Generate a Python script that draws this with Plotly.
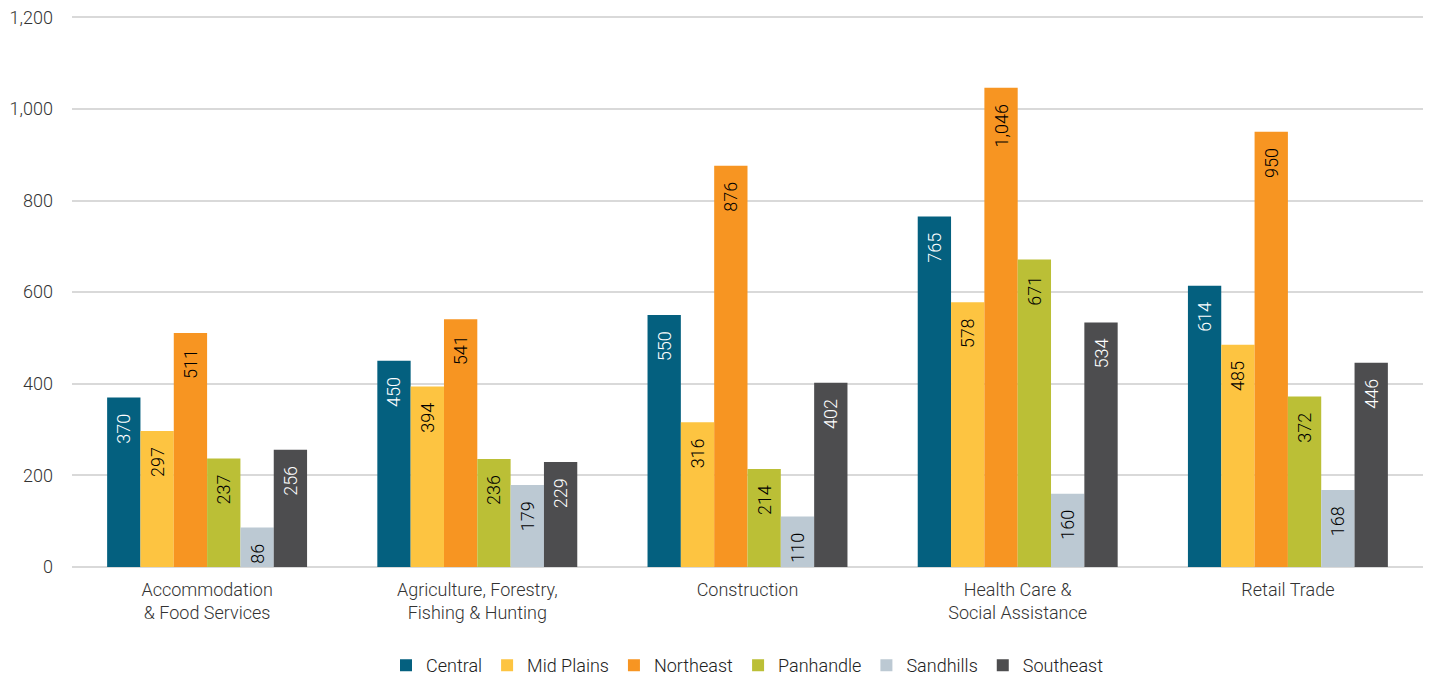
import plotly.graph_objects as go

categories = ["Accommodation<br>& Food Services", "Agriculture, Forestry,<br>Fishing & Hunting",
              "Construction", "Health Care &<br>Social Assistance", "Retail Trade"]
central = [370, 450, 550, 765, 614]
mid_plains = [297, 394, 316, 578, 485]
northeast = [511, 541, 876, 1046, 950]
panhandle = [237, 236, 214, 671, 372]
sandhills = [86, 179, 110, 160, 168]
southeast = [256, 229, 402, 534, 446]

series = [
    ("Central", central, "#04607F", "white"),
    ("Mid Plains", mid_plains, "#FDC441", "black"),
    ("Northeast", northeast, "#F79522", "black"),
    ("Panhandle", panhandle, "#BBBF36", "black"),
    ("Sandhills", sandhills, "#BCC9D3", "black"),
    ("Southeast", southeast, "#4D4D4F", "white"),
]

fig = go.Figure()
for name, vals, color, tcol in series:
    fig.add_trace(go.Bar(
        name=name, x=categories, y=vals, marker=dict(color=color, line=dict(width=0)),
        text=[f"{v:,}" for v in vals], textposition="inside", insidetextanchor="end",
        textangle=-90, texttemplate="%{text}\u00a0\u00a0\u00a0",
        textfont=dict(color=tcol, size=18, family="Roboto"),
        cliponaxis=False,
    ))

# page body has an 8px margin, so the figure is sized to fill the rest of the window
fig.update_layout(
    barmode="group", bargap=0.26, bargroupgap=0,
    width=1423, height=669,
    margin=dict(l=64, r=8, t=7, b=110, autoexpand=False),
    plot_bgcolor="white", paper_bgcolor="white",
    font=dict(family="Roboto", size=18, color="#333333", weight=300),
    uniformtext=dict(mode=False),
    showlegend=True,
    legend=dict(orientation="h", x=0.5, xanchor="center", y=-0.145, yanchor="top",
                font=dict(size=18, color="#222222", weight=300), itemwidth=30,
                traceorder="normal", tracegroupgap=0),
    xaxis=dict(showgrid=False, tickfont=dict(size=18, color="#333333", weight=300), ticks="",
               showline=False, automargin=False, ticklabelstandoff=10),
    yaxis=dict(range=[0, 1205], tickvals=[0, 200, 400, 600, 800, 1000, 1200], tickformat=",",
               gridcolor="#D9D9D9", gridwidth=1.5,
               zeroline=True, zerolinecolor="#D9D9D9", zerolinewidth=1.5, automargin=False,
               ticklabeloverflow="allow",
               tickfont=dict(size=18, color="#333333", weight=300), ticklabelstandoff=18),
)
fig.write_html("out.html")
